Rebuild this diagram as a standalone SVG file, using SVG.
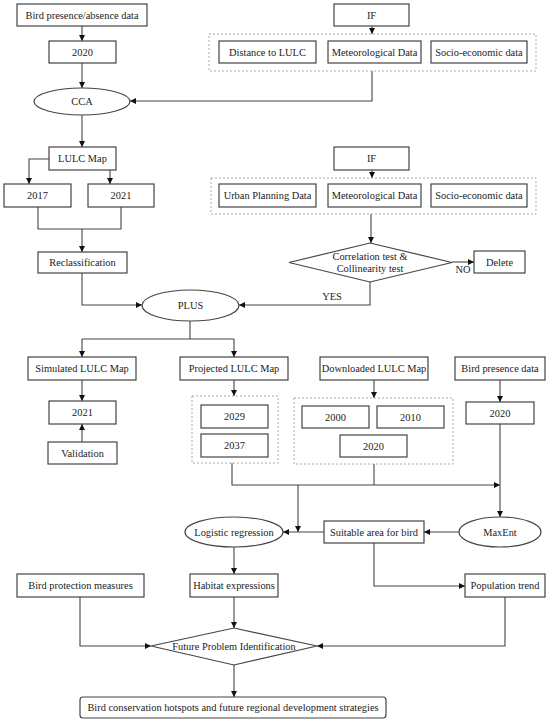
<svg xmlns="http://www.w3.org/2000/svg" width="550" height="720" viewBox="0 0 550 720">
<defs>
<marker id="ah" viewBox="0 0 10 10" refX="10" refY="5" markerWidth="6" markerHeight="6" markerUnits="userSpaceOnUse" orient="auto">
<path d="M0,0 L10,5 L0,10 Z" fill="#111"/>
</marker>
<style>
.b{fill:#fff;stroke:#444;stroke-width:1.2}
.g{fill:none;stroke:#aaa;stroke-width:1;stroke-dasharray:2,2}
.c path,.c line{fill:none;stroke:#444;stroke-width:1.1}
.a{marker-end:url(#ah)}
text{font-family:"Liberation Serif","Times New Roman",serif;font-size:10.4px;fill:#222;text-anchor:middle}
</style>
</defs>
<rect width="550" height="720" fill="#fff"/>

<g id="connectors" class="c">
<path class="a" d="M82,26V41"/>
<path class="a" d="M82,63V88"/>
<path class="a" d="M372,26V34"/>
<path class="a" d="M372,71V101H130"/>
<path class="a" d="M82,115V147"/>
<path class="a" d="M49,159H29V184"/>
<path class="a" d="M110,170V184"/>
<path d="M38,207V229H121V207"/>
<path class="a" d="M82,229V252"/>
<path class="a" d="M372,170V178"/>
<path class="a" d="M371,214V243"/>
<path class="a" d="M452,262H474"/>
<path class="a" d="M370,282V305H239"/>
<path class="a" d="M82,273V305H142"/>
<path d="M190,321V339M82,339H234"/>
<path class="a" d="M82,339V357"/>
<path class="a" d="M234,339V357"/>
<path class="a" d="M82,380V401"/>
<path class="a" d="M82,442V424"/>
<path class="a" d="M234,380V396"/>
<path class="a" d="M374,380V398"/>
<path class="a" d="M500,380V402"/>
<path class="a" d="M232,463V485H500"/>
<path d="M374,464V485"/>
<path class="a" d="M500,424V517"/>
<path class="a" d="M298,485V532"/>
<path class="a" d="M459,532H424"/>
<path class="a" d="M324,532H283"/>
<path class="a" d="M234,547V574"/>
<path class="a" d="M374,543V586H465"/>
<path class="a" d="M80,597V646H151"/>
<path class="a" d="M234,597V628"/>
<path class="a" d="M505,597V646H317"/>
<path class="a" d="M234,665V697"/>
<text x="332" y="300">YES</text>
<text x="463" y="273">NO</text>
</g>

<g id="bird-presence-absence"><rect class="b" x="17" y="4" width="130" height="22"/><text x="82" y="18.5">Bird presence/absence data</text></g>
<g id="y2020-a"><rect class="b" x="49" y="41" width="67" height="22"/><text x="82.5" y="55.5">2020</text></g>
<g id="cca"><ellipse class="b" cx="82" cy="101.5" rx="48" ry="13.5"/><text x="82" y="105">CCA</text></g>

<g id="if1"><rect class="b" x="334" y="4" width="75" height="22"/><text x="371.5" y="18.5">IF</text></g>
<g id="group1"><rect class="g" x="209" y="34" width="327" height="37"/>
<rect class="b" x="219" y="41" width="97" height="22"/><text x="267.5" y="55.5">Distance to LULC</text>
<rect class="b" x="328" y="41" width="93" height="22"/><text x="374.5" y="55.5">Meteorological Data</text>
<rect class="b" x="431" y="41" width="96" height="22"/><text x="479" y="55.5">Socio-economic data</text></g>

<g id="lulc-map"><rect class="b" x="49" y="147" width="67" height="23"/><text x="82.5" y="162">LULC Map</text></g>
<g id="y2017"><rect class="b" x="4" y="184" width="67" height="23"/><text x="37.5" y="199">2017</text></g>
<g id="y2021-a"><rect class="b" x="88" y="184" width="66" height="23"/><text x="121" y="199">2021</text></g>
<g id="reclass"><rect class="b" x="38" y="252" width="89" height="21"/><text x="82.5" y="266">Reclassification</text></g>

<g id="if2"><rect class="b" x="334" y="147" width="75" height="23"/><text x="371.5" y="162">IF</text></g>
<g id="group2"><rect class="g" x="211" y="178" width="325" height="36"/>
<rect class="b" x="219" y="184" width="97" height="23"/><text x="267.5" y="199">Urban Planning Data</text>
<rect class="b" x="328" y="184" width="93" height="23"/><text x="374.5" y="199">Meteorological Data</text>
<rect class="b" x="431" y="184" width="96" height="23"/><text x="479" y="199">Socio-economic data</text></g>

<g id="correlation"><polygon class="b" points="289,262.5 370,243 452,262.5 370,282"/><text x="370" y="260">Correlation test &amp;</text><text x="370" y="272">Collinearity test</text></g>
<g id="delete"><rect class="b" x="474" y="251" width="51" height="22"/><text x="499.5" y="265.5">Delete</text></g>
<g id="plus"><ellipse class="b" cx="190.5" cy="305.5" rx="48.5" ry="15.5"/><text x="190.5" y="309">PLUS</text></g>

<g id="simulated"><rect class="b" x="28" y="357" width="108" height="23"/><text x="82" y="372">Simulated LULC Map</text></g>
<g id="y2021-b"><rect class="b" x="49" y="401" width="67" height="23"/><text x="82.5" y="416">2021</text></g>
<g id="validation"><rect class="b" x="48" y="442" width="69" height="22"/><text x="82.5" y="456.5">Validation</text></g>

<g id="projected"><rect class="b" x="180" y="357" width="108" height="23"/><text x="234" y="372">Projected LULC Map</text></g>
<g id="group3"><rect class="g" x="192" y="396" width="86" height="67"/>
<rect class="b" x="201" y="405" width="67" height="23"/><text x="234.5" y="420">2029</text>
<rect class="b" x="201" y="434" width="67" height="23"/><text x="234.5" y="449">2037</text></g>

<g id="downloaded"><rect class="b" x="320" y="357" width="108" height="23"/><text x="374" y="372">Downloaded LULC Map</text></g>
<g id="group4"><rect class="g" x="294" y="398" width="159" height="66"/>
<rect class="b" x="302" y="406" width="67" height="22"/><text x="335.5" y="420.5">2000</text>
<rect class="b" x="377" y="406" width="67" height="22"/><text x="410.5" y="420.5">2010</text>
<rect class="b" x="340" y="435" width="67" height="22"/><text x="373.5" y="449.5">2020</text></g>

<g id="bird-presence"><rect class="b" x="455" y="357" width="90" height="23"/><text x="500" y="372">Bird presence data</text></g>
<g id="y2020-b"><rect class="b" x="466" y="402" width="68" height="22"/><text x="500" y="416.5">2020</text></g>

<g id="logistic"><ellipse class="b" cx="234" cy="532" rx="49" ry="15"/><text x="234" y="535.5">Logistic regression</text></g>
<g id="suitable"><rect class="b" x="324" y="521" width="100" height="22"/><text x="374" y="535.5">Suitable area for bird</text></g>
<g id="maxent"><ellipse class="b" cx="500" cy="532" rx="41" ry="15"/><text x="500" y="535.5">MaxEnt</text></g>

<g id="protection"><rect class="b" x="17" y="574" width="127" height="23"/><text x="80.5" y="589">Bird protection measures</text></g>
<g id="habitat"><rect class="b" x="190" y="574" width="88" height="23"/><text x="234" y="589">Habitat expressions</text></g>
<g id="population"><rect class="b" x="465" y="574" width="80" height="23"/><text x="505" y="589">Population trend</text></g>

<g id="future"><polygon class="b" points="151,646 234,628 317,646 234,665"/><text x="234" y="649.5">Future Problem Identification</text></g>
<g id="hotspots"><rect class="b" x="80" y="697" width="306" height="21" rx="3"/><text x="233" y="711">Bird conservation hotspots and future regional development strategies</text></g>
</svg>
